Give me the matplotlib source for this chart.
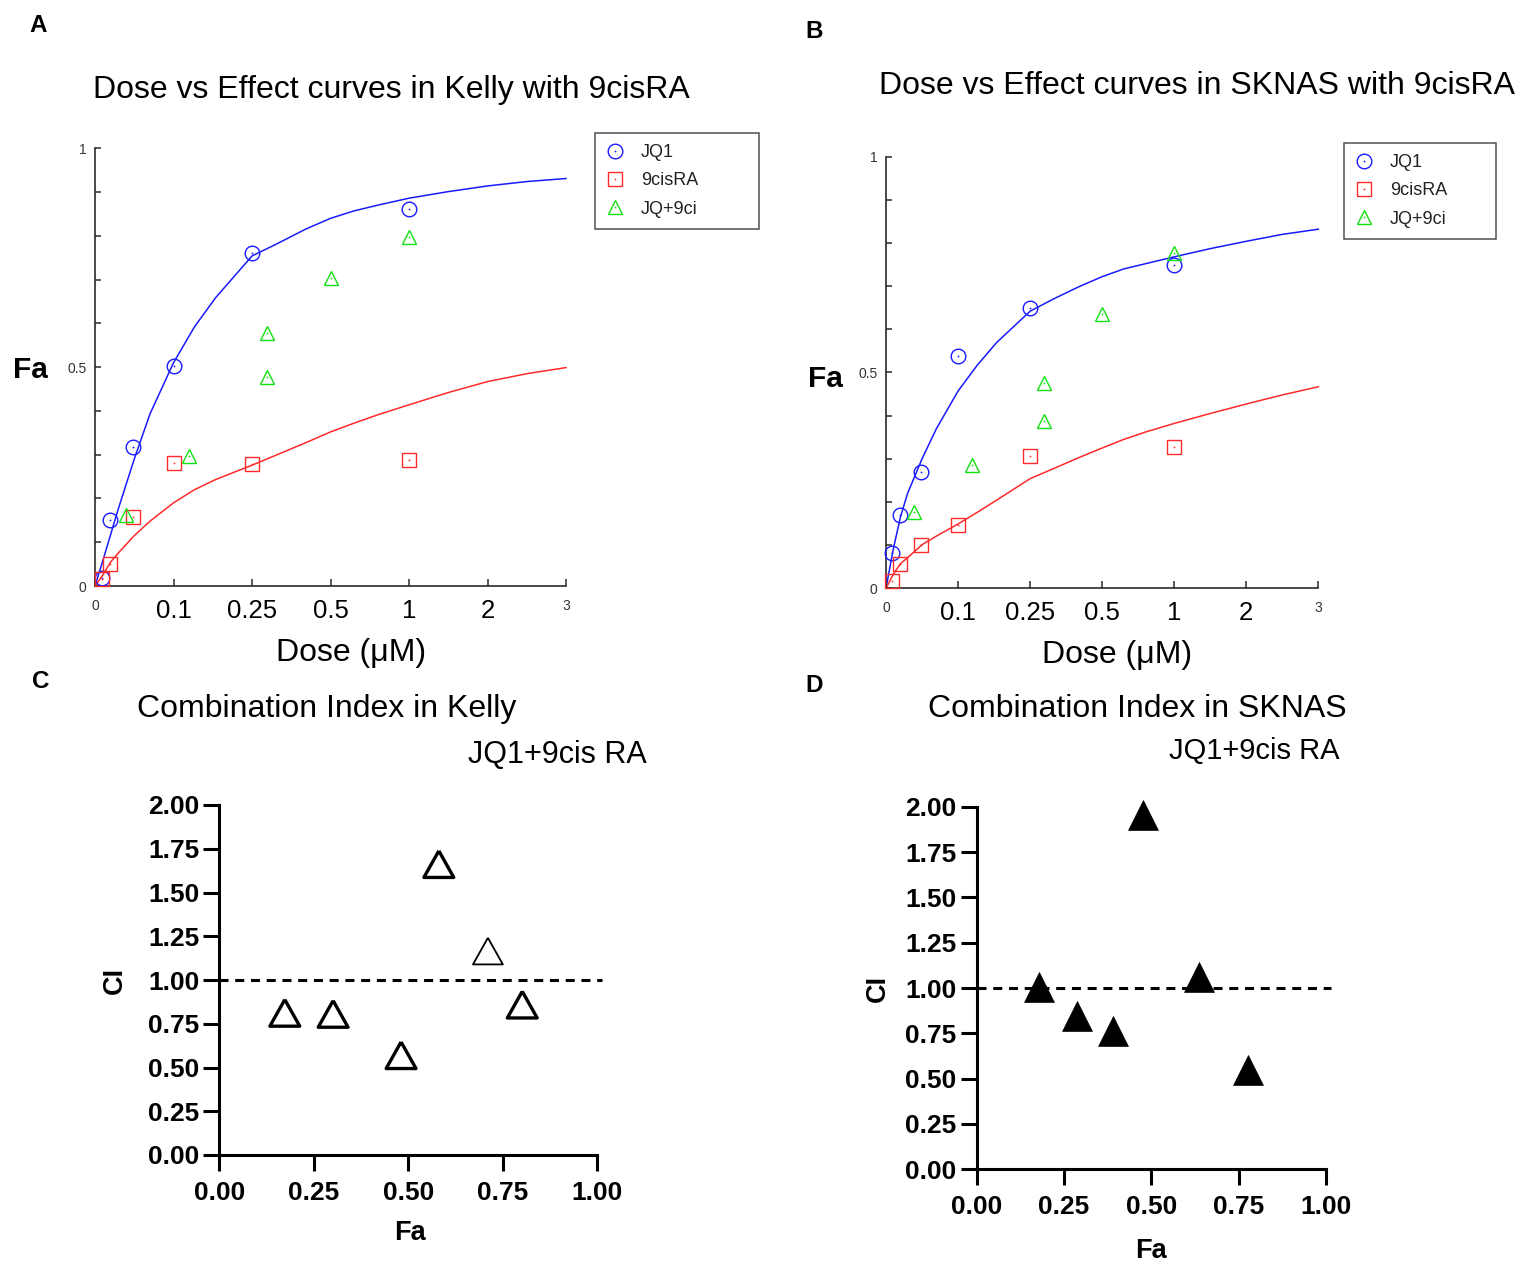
import numpy as np
import matplotlib
matplotlib.use('Agg')
import matplotlib.pyplot as plt
from matplotlib.lines import Line2D
from matplotlib.ticker import NullLocator

plt.rcParams['font.family'] = ['Liberation Sans', 'DejaVu Sans']

# ---------------- data ----------------
dose_ticks = [0, 0.1, 0.25, 0.5, 1, 2, 3]
dose_tick_labels = ['0', '0.1', '0.25', '0.5', '1', '2', '3']

# fitted dose-effect curves
curve_dose = [0, 0.01, 0.02, 0.03, 0.05, 0.07, 0.1, 0.14, 0.18, 0.25, 0.33,
              0.42, 0.5, 0.65, 0.8, 1, 1.5, 2, 2.5, 3]
kelly_jq1_curve = [0, 0.058, 0.118, 0.178, 0.290, 0.393, 0.510, 0.592, 0.658,
                   0.754, 0.782, 0.815, 0.840, 0.857, 0.870, 0.886, 0.901,
                   0.914, 0.924, 0.931]
kelly_ra_curve = [0, 0.025, 0.055, 0.076, 0.115, 0.148, 0.190, 0.220, 0.243,
                  0.276, 0.300, 0.327, 0.352, 0.372, 0.391, 0.414, 0.442,
                  0.467, 0.485, 0.499]
sknas_jq1_curve = [0, 0.090, 0.165, 0.220, 0.300, 0.370, 0.457, 0.517, 0.569,
                   0.642, 0.670, 0.699, 0.722, 0.740, 0.752, 0.768, 0.787,
                   0.804, 0.820, 0.832]
sknas_ra_curve = [0, 0.032, 0.057, 0.071, 0.101, 0.121, 0.149, 0.176, 0.204,
                  0.254, 0.277, 0.303, 0.325, 0.345, 0.362, 0.382, 0.405,
                  0.427, 0.448, 0.467]

# measured points
single_dose = [0.0085, 0.019, 0.048, 0.1, 0.25, 1.0]
combo_dose = [0.039, 0.129, 0.298, 0.298, 0.5, 1.0]

kelly_jq1_fa = [0.018, 0.150, 0.318, 0.503, 0.760, 0.861]
kelly_ra_fa = [0.017, 0.050, 0.158, 0.280, 0.279, 0.289]
kelly_combo_fa = [0.163, 0.296, 0.478, 0.578, 0.703, 0.798]

sknas_jq1_fa = [0.081, 0.169, 0.270, 0.538, 0.649, 0.748]
sknas_ra_fa = [0.016, 0.056, 0.101, 0.147, 0.307, 0.327]
sknas_combo_fa = [0.176, 0.286, 0.387, 0.476, 0.635, 0.776]

# combination index
kelly_ci_fa = [0.173, 0.301, 0.481, 0.581, 0.711, 0.802]
kelly_ci = [0.812, 0.806, 0.570, 1.662, 1.165, 0.859]
sknas_ci_fa = [0.179, 0.288, 0.389, 0.477, 0.637, 0.778]
sknas_ci = [1.006, 0.846, 0.765, 1.954, 1.059, 0.548]

ci_ticks = [0, 0.25, 0.5, 0.75, 1.0, 1.25, 1.5, 1.75, 2.0]
fa_ticks = [0, 0.25, 0.5, 0.75, 1.0]

legend_labels = ['JQ1', '9cisRA', 'JQ+9ci']

# ---------------- figure ----------------
W, H = 1518, 1261
fig = plt.figure(figsize=(W / 100, H / 100), dpi=100)


def rect(x0, x1, ytop, ybot):
    return [x0 / W, 1 - ybot / H, (x1 - x0) / W, (ybot - ytop) / H]


def ftxt(x, y, s, **kw):
    fig.text(x / W, 1 - y / H, s, ha=kw.pop('ha', 'center'),
             va=kw.pop('va', 'center'), **kw)


node_pos = np.arange(len(dose_ticks), dtype=float)


def fwd(x):
    return np.interp(x, dose_ticks, node_pos)


def inv(u):
    return np.interp(u, node_pos, dose_ticks)


BLUE = '#1a1aff'
RED = '#ff2a2a'
GREEN = '#14e014'
AX = '#2a2a2a'


def dose_panel(r, j_curve, r_curve, j_fa, r_fa, c_fa, legend_box):
    ax = fig.add_axes(r)
    ax.set_xscale('function', functions=(fwd, inv))
    ax.set_xlim(0, 3)
    ax.set_ylim(0, 1)
    for s in ['top', 'right']:
        ax.spines[s].set_visible(False)
    for s in ['left', 'bottom']:
        ax.spines[s].set_color(AX)
        ax.spines[s].set_linewidth(1.2)
    ax.plot(curve_dose, j_curve, color=BLUE, lw=1.1, clip_on=False)
    ax.plot(curve_dose, r_curve, color=RED, lw=1.1, clip_on=False)
    mk = dict(ls='none', ms=10.5, mfc='none', mew=1.0, clip_on=False, zorder=3)
    dot = dict(ls='none', marker='o', ms=1.3, mew=0, clip_on=False, zorder=4)
    ax.plot(single_dose, j_fa, marker='o', mec=BLUE, **mk)
    ax.plot(single_dose, j_fa, mfc=BLUE, **dot)
    ax.plot(single_dose, r_fa, marker='s', mec=RED, **mk)
    ax.plot(single_dose, r_fa, mfc=RED, **dot)
    ax.plot(combo_dose, c_fa, marker='^', mec=GREEN, **mk)
    ax.plot(combo_dose, c_fa, mfc=GREEN, **dot)

    ax.set_xticks(dose_ticks, dose_tick_labels)
    ax.xaxis.set_minor_locator(NullLocator())
    ax.tick_params(axis='x', direction='in', length=5, width=1.1,
                   color=AX, labelsize=18.5, pad=9)
    for lbl in ax.get_xticklabels():
        if lbl.get_text() in ('0', '3'):
            lbl.set_fontsize(10)
            lbl.set_color('#333333')
    ax.set_yticks([0, 0.5, 1], ['0', '0.5', '1'])
    ax.set_yticks([0.1, 0.2, 0.3, 0.4, 0.6, 0.7, 0.8, 0.9], minor=True)
    ax.tick_params(axis='y', which='both', direction='in', length=4,
                   width=1.1, color=AX, labelsize=10, labelcolor='#333333',
                   pad=6)

    handles = [
        (Line2D([], [], marker='o', mec=BLUE, **mk), Line2D([], [], mfc=BLUE, **dot)),
        (Line2D([], [], marker='s', mec=RED, **mk), Line2D([], [], mfc=RED, **dot)),
        (Line2D([], [], marker='^', mec=GREEN, **mk), Line2D([], [], mfc=GREEN, **dot)),
    ]
    x0, y0, x1, y1 = legend_box
    leg = ax.legend(handles, legend_labels, loc='upper left',
                    bbox_to_anchor=(x0 / W, 1 - y1 / H, (x1 - x0) / W, (y1 - y0) / H),
                    bbox_transform=fig.transFigure, mode='expand',
                    frameon=True, fancybox=False, edgecolor='#222222',
                    borderaxespad=0, fontsize=13, handlelength=0.93,
                    handletextpad=1.0, labelspacing=0.62, borderpad=0.62)
    leg.get_frame().set_linewidth(1.1)
    for t in leg.get_texts():
        t.set_color('#222222')
    return ax


# Panel A
dose_panel(rect(95, 566, 148.3, 586), kelly_jq1_curve, kelly_ra_curve,
           kelly_jq1_fa, kelly_ra_fa, kelly_combo_fa, (595, 133, 759, 229))
ftxt(391, 90, 'Dose vs Effect curves in Kelly with 9cisRA', fontsize=23)
ftxt(351, 653, 'Dose (\u03bcM)', fontsize=23)
ftxt(30, 370, 'Fa', fontsize=21.5, fontweight='bold')
ftxt(38, 25, 'A', fontsize=17.5, fontweight='bold')

# Panel B
dose_panel(rect(886, 1318.3, 156.7, 588.3), sknas_jq1_curve, sknas_ra_curve,
           sknas_jq1_fa, sknas_ra_fa, sknas_combo_fa, (1344, 143, 1496, 238))
ftxt(1197, 86, 'Dose vs Effect curves in SKNAS with 9cisRA', fontsize=23)
ftxt(1117, 655, 'Dose (\u03bcM)', fontsize=23)
ftxt(825, 379, 'Fa', fontsize=21.5, fontweight='bold')
ftxt(814, 31, 'B', fontsize=17.5, fontweight='bold')

# triangle slightly wider than tall, as drawn by the CI plot software
wide_tri = [(0, 0.89), (-1, -0.89), (1, -0.89), (0, 0.89)]


def ci_panel(r, fa, ci, filled, lws):
    ax = fig.add_axes(r)
    ax.set_xlim(0, 1.03)
    ax.set_ylim(0, 2)
    for s in ['top', 'right']:
        ax.spines[s].set_visible(False)
    for s in ['left', 'bottom']:
        ax.spines[s].set_linewidth(2.2)
        ax.spines[s].set_color('black')
    ax.spines['bottom'].set_bounds(0, 1)
    ax.set_xticks(fa_ticks, ['%.2f' % v for v in fa_ticks])
    ax.set_yticks(ci_ticks, ['%.2f' % v for v in ci_ticks])
    ax.tick_params(length=11.5, width=2.2, labelsize=19)
    ax.tick_params(axis='x', pad=7)
    ax.tick_params(axis='y', pad=3)
    for lbl in ax.get_xticklabels() + ax.get_yticklabels():
        lbl.set_fontweight('bold')
    ax.plot([0, 1.013], [1, 1], color='black', lw=2.2, dashes=(2.95, 2.2),
            clip_on=False)
    if filled:
        ax.scatter(fa, ci, marker='^', s=21.5 ** 2, facecolors='black',
                   edgecolors='black', linewidths=0.5, clip_on=False, zorder=3)
    else:
        ax.scatter(fa, ci, marker=wide_tri, s=21.5 ** 2, facecolors='none',
                   edgecolors='black', linewidths=lws, clip_on=False, zorder=3)
    return ax


# Panel C
ci_panel(rect(219.5, 219.5 + 377.5 * 1.03, 805, 1155), kelly_ci_fa, kelly_ci,
         False, [2.4, 2.4, 2.4, 2.4, 1.3, 2.4])
ftxt(327, 709, 'Combination Index in Kelly', fontsize=23)
ftxt(557, 755, 'JQ1+9cis RA', fontsize=22)
ftxt(115, 980, 'CI', fontsize=19.5, fontweight='bold', rotation=90)
ftxt(410, 1233, 'Fa', fontsize=19.5, fontweight='bold')
ftxt(41, 681, 'C', fontsize=17.5, fontweight='bold')

# Panel D
ci_panel(rect(976.7, 976.7 + 349.3 * 1.03, 806.7, 1169.3), sknas_ci_fa,
         sknas_ci, True, None)
ftxt(1137, 709, 'Combination Index in SKNAS', fontsize=23)
ftxt(1254, 751, 'JQ1+9cis RA', fontsize=21)
ftxt(878, 988, 'CI', fontsize=19.5, fontweight='bold', rotation=90)
ftxt(1151, 1251, 'Fa', fontsize=19.5, fontweight='bold')
ftxt(814, 685, 'D', fontsize=17.5, fontweight='bold')

fig.savefig('out.png', dpi=100)
